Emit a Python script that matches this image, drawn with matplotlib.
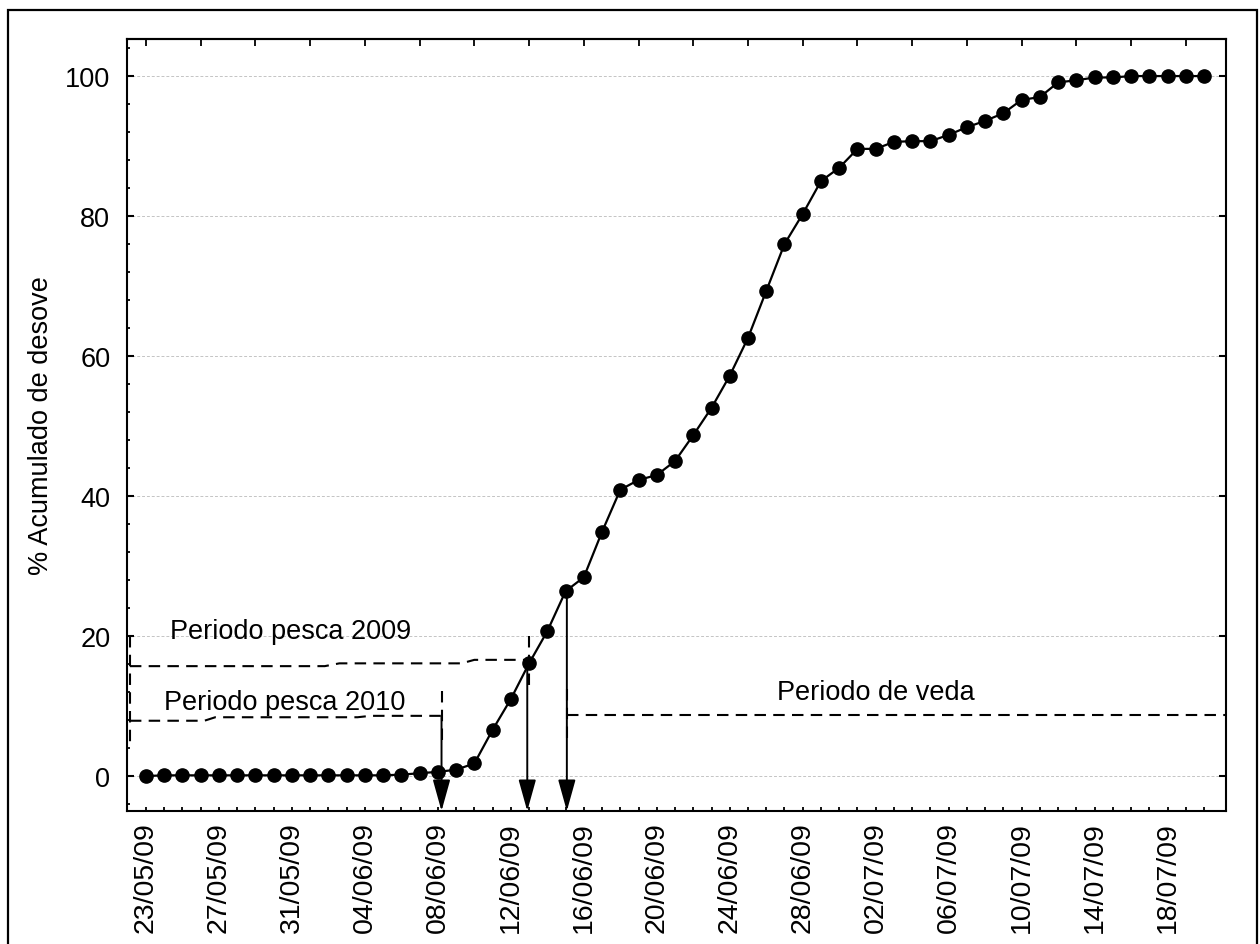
import numpy as np
import pandas as pd
import matplotlib
matplotlib.use("Agg")
from matplotlib import pyplot as plt
from matplotlib.patches import Rectangle

plt.rcParams['font.family'] = ['Liberation Sans', 'DejaVu Sans']

# daily cumulative spawning, 23/05/09 .. 20/07/09
dates = pd.date_range("2009-05-23", "2009-07-20", freq="D")
desove = [0.0, 0.1, 0.1, 0.1, 0.1, 0.1, 0.1, 0.1, 0.1, 0.1, 0.1, 0.1, 0.1, 0.1, 0.2,
          0.4, 0.6, 0.9, 1.8, 6.6, 11.0, 16.1, 20.7, 26.4, 28.4, 34.9, 40.9, 42.3,
          43.0, 45.0, 48.7, 52.6, 57.2, 62.6, 69.3, 76.0, 80.3, 85.0, 86.9, 89.6,
          89.6, 90.6, 90.7, 90.7, 91.6, 92.7, 93.6, 94.7, 96.6, 97.0, 99.1, 99.4,
          99.8, 99.8, 100.0, 100.0, 100.0, 100.0, 100.0]

# annotation brackets, x in days after 23/05
left_x, left_y = [-0.88, -0.88], [20.0, 4.3]
p2009_x = [-0.88, 9.8, 10.6, 17.3, 18.0, 21.0]
p2009_y = [15.7, 15.7, 16.1, 16.1, 16.6, 16.6]
p2009_vx, p2009_vy = [21.0, 21.0], [20.0, 12.7]
p2010_x = [-0.88, 3.2, 3.8, 11.6, 12.3, 16.2]
p2010_y = [7.9, 7.9, 8.4, 8.4, 8.6, 8.6]
p2010_vx, p2010_vy = [16.2, 16.2], [12.1, 4.9]
veda_vx, veda_vy = [23.1, 23.1], [12.4, 5.0]
veda_x, veda_y = [23.1, 59.2], [8.7, 8.7]

arrow_x = [16.2, 20.9, 23.07]
arrow_top = [8.6, 16.1, 26.4]

labels = [("Periodo pesca 2009", 1.3, 20.7),
          ("Periodo pesca 2010", 1.0, 10.6),
          ("Periodo de veda", 34.6, 12.0)]

day0 = dates[0]
def d(x):
    return day0 + pd.to_timedelta(np.asarray(x, dtype=float), unit="D")

fig = plt.figure(figsize=(12.6, 9.45), dpi=100)
ax = fig.add_axes([0.1008, 0.1407, 0.8722, 0.817])

ax.yaxis.grid(True, color="#c4c4c4", linestyle=(0, (3, 2)), linewidth=0.7)
ax.set_axisbelow(True)

ax.plot(dates, desove, color="black", lw=1.6, marker="o", ms=9.5, zorder=4)

dash = dict(color="black", lw=1.5, linestyle=(0, (5.5, 3.5)))
for xs, ys in [(left_x, left_y), (p2009_x, p2009_y), (p2009_vx, p2009_vy),
               (p2010_x, p2010_y), (p2010_vx, p2010_vy),
               (veda_vx, veda_vy), (veda_x, veda_y)]:
    ax.plot(d(xs), ys, **dash)

for xa, ya in zip(arrow_x, arrow_top):
    ax.annotate("", xy=(d(xa), -5), xytext=(d(xa), ya),
                arrowprops=dict(arrowstyle="-|>,head_length=0.97,head_width=0.27",
                                mutation_scale=20, color="black", lw=1.4,
                                shrinkA=0, shrinkB=0),
                annotation_clip=False, zorder=5)

for txt, xt, yt in labels:
    ax.text(d(xt), yt, txt, fontsize=19.5, ha="left", va="center")

ax.set_xlim(d(-1.04), d(59.2))
ax.set_ylim(-5, 105.3)

ax.set_xticks(dates[::4])
ax.set_xticklabels([t.strftime("%d/%m/%y") for t in dates[::4]], rotation=90)
ax.set_xticks(dates, minor=True)
ax.set_yticks(np.arange(0, 101, 20))
ax.set_yticks(np.arange(-4, 105, 4), minor=True)
ax.tick_params(axis="x", which="both", direction="in", length=3, width=1.3,
               labelsize=20.5, pad=7, top=False)
ax.tick_params(axis="y", which="major", direction="in", length=5, width=1.5,
               labelsize=19.5, pad=12, right=True)
ax.tick_params(axis="y", which="minor", direction="in", length=2.5, width=1.3)

top = ax.secondary_xaxis("top")
top.set_xticks(dates[::3])
top.tick_params(direction="in", length=5, width=1.3, labeltop=False)
top.spines["top"].set_linewidth(1.5)

for s in ax.spines.values():
    s.set_linewidth(1.5)

ax.set_ylabel("% Acumulado de desove", fontsize=19.5)
ax.yaxis.set_label_coords(-0.066, 0.5)

fig.patches.append(Rectangle((0.0065, -0.01), 0.991, 0.998, transform=fig.transFigure,
                             fill=False, edgecolor="black", lw=1.6))

fig.savefig("out.png", dpi=100)
